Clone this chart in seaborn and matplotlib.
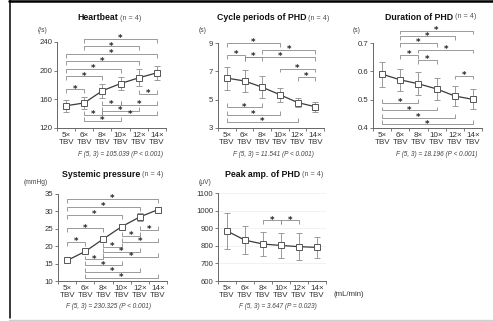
import matplotlib
matplotlib.use("Agg")
import matplotlib.pyplot as plt
from matplotlib.lines import Line2D
import numpy as np
import pandas as pd
import seaborn as sns

# ---------------- data ----------------
categories = ["5×\nTBV", "6×\nTBV", "8×\nTBV", "10×\nTBV", "12×\nTBV", "14×\nTBV"]

hb_mean = [151, 155, 172, 182, 190, 197]
hb_sd = [8, 8.5, 10, 9, 12, 10]

cp_mean = [6.52, 6.32, 5.88, 5.35, 4.80, 4.50]
cp_sd = [0.82, 0.77, 0.78, 0.50, 0.32, 0.36]

du_mean = [0.590, 0.570, 0.556, 0.538, 0.513, 0.501]
du_sd = [0.044, 0.039, 0.040, 0.040, 0.037, 0.035]

sp_mean = [15.9, 18.5, 22.1, 25.6, 28.4, 30.5]
sp_sd = [0.3, 0.5, 0.6, 0.9, 1.2, 0.6]

pa_mean = [884, 832, 810, 802, 795, 791]
pa_sd = [104, 80, 70, 70, 78, 60]

titles = ["Heartbeat", "Cycle periods of PHD", "Duration of PHD",
          "Systemic pressure", "Peak amp. of PHD"]
units = ["(/s)", "(s)", "(s)", "(mmHg)", "(μV)"]
stats = ["F (5, 3) = 105.039 (P < 0.001)", "F (5, 3) = 11.541 (P < 0.001)",
         "F (5, 3) = 18.196 (P < 0.001)", "F (5, 3) = 230.325 (P < 0.001)",
         "F (5, 3) = 3.647 (P = 0.023)"]

# significance pairs (i, j) with bracket level; 'u' = legs down (above data), 'd' = legs up
hb_pairs = [(1, 5, 244, 'u'), (1, 4, 234, 'u'), (0, 5, 223, 'u'), (0, 4, 213, 'u'),
            (0, 3, 202, 'u'), (0, 2, 192, 'u'), (0, 1, 174, 'u'),
            (4, 5, 168, 'd'), (2, 3, 152, 'd'), (3, 5, 152, 'd'), (2, 4, 144, 'd'),
            (1, 2, 138, 'd'), (2, 5, 138, 'd'), (1, 3, 130, 'd')]
cp_pairs = [(0, 3, 9.0, 'u'), (2, 5, 8.5, 'u'), (0, 1, 8.15, 'u'), (1, 2, 8.0, 'u'),
            (1, 5, 8.0, 'u'), (3, 5, 7.2, 'u'), (4, 5, 6.6, 'u'),
            (0, 2, 4.46, 'd'), (0, 3, 3.92, 'd'), (0, 4, 3.45, 'd')]
du_pairs = [(1, 5, 0.744, 'u'), (1, 4, 0.723, 'u'), (1, 3, 0.701, 'u'),
            (2, 5, 0.677, 'u'), (1, 2, 0.657, 'u'), (2, 3, 0.640, 'u'), (4, 5, 0.585, 'u'),
            (0, 2, 0.488, 'd'), (0, 3, 0.462, 'd'), (0, 4, 0.437, 'd'), (0, 5, 0.413, 'd')]
sp_pairs = [(0, 5, 33.5, 'u'), (0, 4, 31.3, 'u'), (0, 3, 28.9, 'u'), (0, 2, 25.1, 'u'),
            (0, 1, 21.2, 'u'),
            (4, 5, 24.6, 'd'), (3, 4, 22.9, 'd'), (3, 5, 21.2, 'd'), (2, 3, 19.8, 'd'),
            (2, 4, 18.4, 'd'), (2, 5, 17.0, 'd'), (1, 2, 16.2, 'd'), (1, 3, 14.5, 'd'),
            (1, 4, 12.6, 'd'), (1, 5, 11.0, 'd')]
pa_pairs = [(2, 3, 944, 'u'), (3, 4, 944, 'u')]

ylims = [(120, 240), (3, 9), (0.4, 0.7), (10, 35), (600, 1100)]
yticks = [[120, 160, 200, 240], [3, 5, 7, 9], [0.4, 0.5, 0.6, 0.7],
          [10, 15, 20, 25, 30, 35], [600, 700, 800, 900, 1000, 1100]]
yfmt = ["{:.0f}", "{:.0f}", "{:.1f}", "{:.0f}", "{:.0f}"]

# ---------------- layout (pixels) ----------------
W, H = 493, 321
# (left, right, top, bottom) in pixel coords
boxes = [(57, 166, 42, 128), (218, 324, 43, 128), (373, 482, 43, 128),
         (58, 167, 194, 281), (218, 326, 193, 281)]
title_pos = [(77, 18), (217, 18), (385, 17), (62, 175), (225, 175)]
unit_pos = [(43, 30), (203, 30), (357, 31), (36, 183), (205, 183)]
stat_pos = [(120, 154), (273, 154), (437, 154), (109, 306), (278, 307)]

sns.set_theme(style="white")
plt.rcParams['font.family'] = ['Liberation Sans', 'DejaVu Sans']

fig = plt.figure(figsize=(W / 100, H / 100), dpi=100)
fig.patch.set_facecolor("white")


def px(x, y):
    return x / W, 1 - y / H


def bracket(ax, i, j, level, kind, rng):
    leg = 0.045 * rng
    c = "#8a8a8a"
    if kind == 'u':
        xs, ys = [i, i, j, j], [level - leg, level, level, level - leg]
    else:
        xs, ys = [i, i, j, j], [level + leg, level, level, level + leg]
    ax.plot(xs, ys, color=c, lw=0.6, clip_on=False, solid_capstyle="butt")
    ax.annotate("*", xy=((i + j) / 2, level), xytext=(0, -1.6),
                textcoords="offset points", ha="center", va="baseline",
                fontsize=6.2, family="DejaVu Sans", fontweight="bold",
                color="#222222", annotation_clip=False)


means = [hb_mean, cp_mean, du_mean, sp_mean, pa_mean]
sds = [hb_sd, cp_sd, du_sd, sp_sd, pa_sd]
pairs = [hb_pairs, cp_pairs, du_pairs, sp_pairs, pa_pairs]

for k in range(5):
    l, r, t, b = boxes[k]
    x0, y0 = px(l, b)
    ax = fig.add_axes([x0, y0, (r - l) / W, (b - t) / H])
    ax.set_facecolor("white")
    df = pd.DataFrame({"pos": np.arange(6), "val": means[k], "sd": sds[k]})
    ax.errorbar(df["pos"], df["val"], yerr=df["sd"], fmt="none", ecolor="#9a9a9a",
                elinewidth=0.7, capsize=2.3, capthick=0.7, zorder=2, clip_on=False)
    sns.lineplot(data=df, x="pos", y="val", ax=ax, color="#3a3a3a", lw=0.9,
                 marker="s", markersize=4.8, markerfacecolor="white",
                 markeredgecolor="#555555", markeredgewidth=0.7, zorder=3,
                 clip_on=False)
    rng = ylims[k][1] - ylims[k][0]
    for (i, j, lev, kind) in pairs[k]:
        bracket(ax, i, j, lev, kind, rng)
    ax.set_xlim(-0.5, 5.5)
    ax.set_ylim(*ylims[k])
    ax.set_xticks(np.arange(6))
    ax.set_xticklabels(categories, fontsize=5.8, color="#333333", linespacing=1.0)
    ax.set_xticks(np.arange(-0.5, 6, 1), minor=True)
    ax.set_yticks(yticks[k])
    ax.set_yticklabels([yfmt[k].format(v) for v in yticks[k]], fontsize=5.6,
                       color="#333333")
    ax.tick_params(axis="x", which="major", length=0, pad=3)
    ax.tick_params(axis="x", which="minor", length=2, width=0.6, color="#666666",
                   direction="out", bottom=True)
    ax.tick_params(axis="y", length=2, width=0.6, color="#666666", direction="out",
                   left=True, pad=1.5)
    ax.set_xlabel("")
    ax.set_ylabel("")
    for s in ["top", "right"]:
        ax.spines[s].set_visible(False)
    for s in ["left", "bottom"]:
        ax.spines[s].set_color("#666666")
        ax.spines[s].set_linewidth(0.7)
    if k == 4:
        ax.yaxis.grid(True, color="#ededed", lw=0.5)
        ax.set_axisbelow(True)

    tx, ty = px(*title_pos[k])
    t1 = fig.text(tx, ty, titles[k], fontsize=6.3, fontweight="bold",
                  color="#111111", ha="left", va="center")
    ax.annotate(" (n = 4)", xy=(1, 0.5), xycoords=t1, ha="left", va="center",
                fontsize=5.2, color="#555555")
    ux, uy = px(*unit_pos[k])
    fig.text(ux, uy, units[k], fontsize=4.8, color="#444444", ha="center",
             va="center")
    sx, sy = px(*stat_pos[k])
    fig.text(sx, sy, stats[k], fontsize=4.7, color="#444444", ha="center",
             va="center", style="italic")

mx, my = px(333, 294)
fig.text(mx, my, "(mL/min)", fontsize=5.6, color="#333333", ha="left", va="center")

# outer frame lines
fig.add_artist(Line2D([9 / W, 1], [1 - 1 / H, 1 - 1 / H], color="black", lw=1.8,
                      transform=fig.transFigure))
fig.add_artist(Line2D([9.5 / W, 9.5 / W], [1 - 318 / H, 1], color="black", lw=1.1,
                      transform=fig.transFigure))
fig.add_artist(Line2D([9 / W, 1], [1 - 319.5 / H, 1 - 319.5 / H], color="#d0d0d0",
                      lw=1.0, transform=fig.transFigure))

fig.savefig("out.png", dpi=100, facecolor="white")
